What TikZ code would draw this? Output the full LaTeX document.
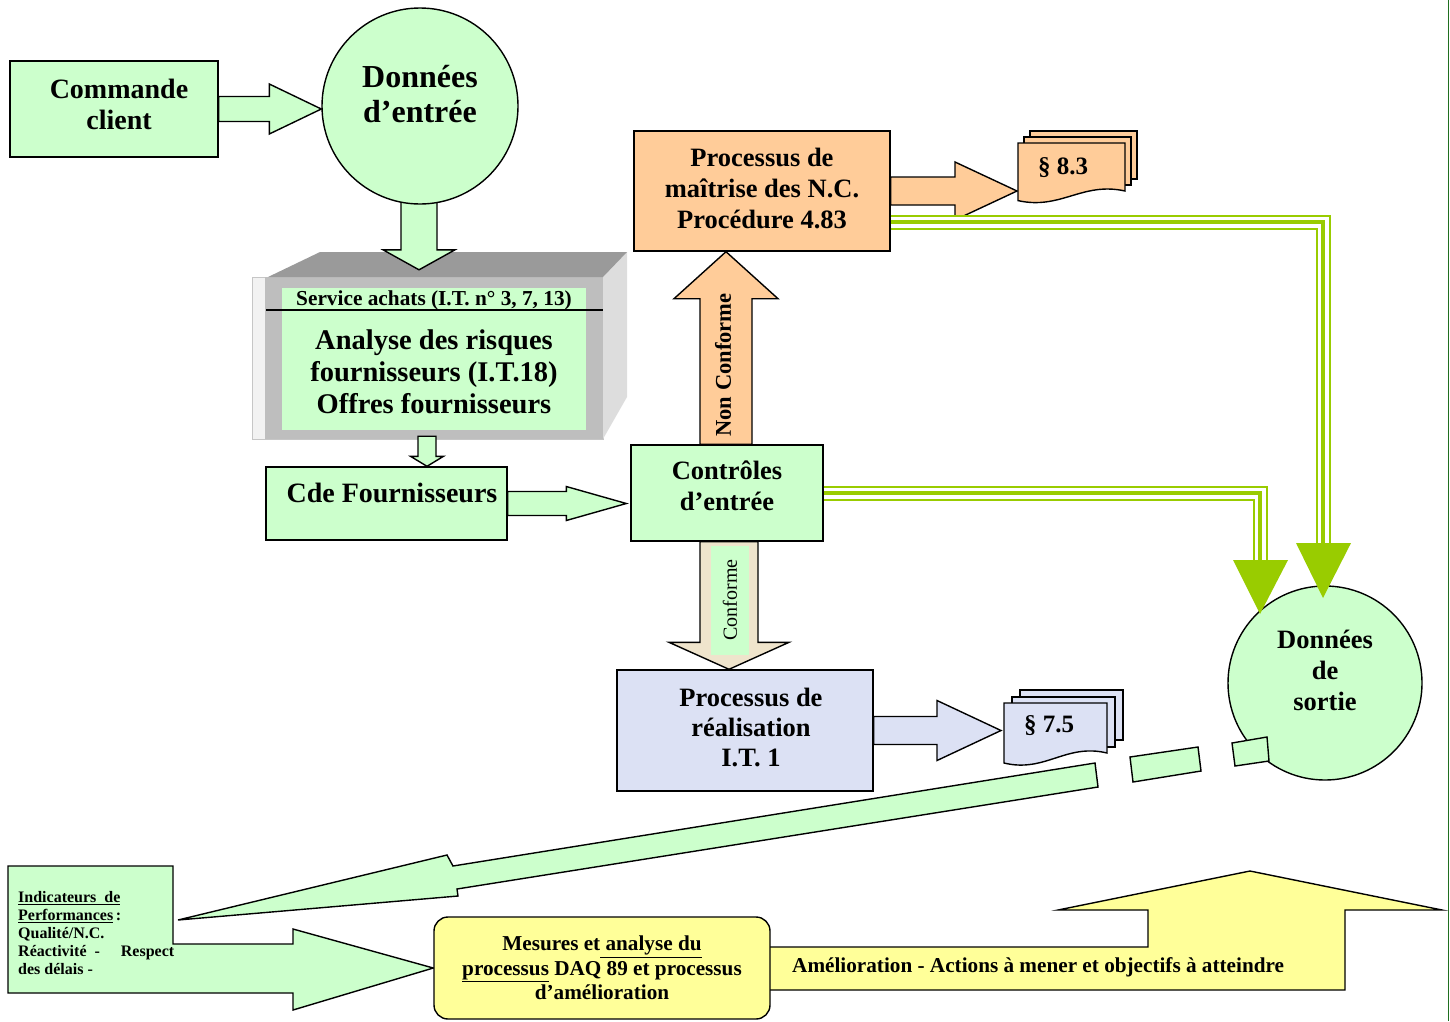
\documentclass[tikz,border=0pt]{standalone}
\usepackage{fontspec}
\setmainfont{Liberation Serif}
\usetikzlibrary{calc}

\definecolor{lgreen}{HTML}{CCFFCC}
\definecolor{lorange}{HTML}{FFCC99}
\definecolor{lyellow}{HTML}{FFFF99}
\definecolor{lime}{HTML}{99CC00}
\definecolor{lavender}{HTML}{DCE1F4}
\definecolor{beige}{HTML}{EFE4CC}
\definecolor{edgegreen}{HTML}{1F6F1F}
\definecolor{topgray}{HTML}{9A9A9A}
\definecolor{midgray}{HTML}{BEBEBE}
\definecolor{sidegray}{HTML}{DDDDDD}
\definecolor{rimgray}{HTML}{F2F2F2}

\newcommand\fs[2]{\fontsize{#1}{#2}\selectfont\bfseries}

% block arrows: #1 style, #2 start, #3 tip, #4 half shaft, #5 half head, #6 head length
\newcommand\blkR[6]{\draw[#1] let \p1=#2, \p2=#3 in
  (\x1,\y1+#4) -- (\x2-#6,\y1+#4) -- (\x2-#6,\y1+#5) -- (\x2,\y1)
  -- (\x2-#6,\y1-#5) -- (\x2-#6,\y1-#4) -- (\x1,\y1-#4) -- cycle;}
\newcommand\blkD[6]{\draw[#1] let \p1=#2, \p2=#3 in
  (\x1-#4,\y1) -- (\x1-#4,\y2+#6) -- (\x1-#5,\y2+#6) -- (\x1,\y2)
  -- (\x1+#5,\y2+#6) -- (\x1+#4,\y2+#6) -- (\x1+#4,\y1) -- cycle;}
\newcommand\blkU[6]{\draw[#1] let \p1=#2, \p2=#3 in
  (\x1-#4,\y1) -- (\x1-#4,\y2-#6) -- (\x1-#5,\y2-#6) -- (\x1,\y2)
  -- (\x1+#5,\y2-#6) -- (\x1+#4,\y2-#6) -- (\x1+#4,\y1) -- cycle;}

% lime triple line
\newcommand\tripleline[1]{%
  \draw[lime,line width=15pt] #1;
  \draw[white,line width=11pt] #1;
  \draw[lime,line width=3.5pt] #1;}

% document sheets: x, y, width, height, fill
\newcommand\docfront[5]{\draw[outl,fill=#5] (#1,#2) -- (#1+#3,#2) -- (#1+#3,#2+#4)
  .. controls (#1+0.6*#3,#2+#4-0.2*#4) and (#1+0.4*#3,#2+#4+0.4*#4) .. (#1,#2+#4+0.2*#4) -- cycle;}
\newcommand\docback[5]{\draw[outl,fill=#5] (#1,#2) rectangle (#1+#3,#2+#4);}

\pgfdeclarelayer{back}
\pgfsetlayers{back,main}

\begin{document}
\begin{tikzpicture}[x=1pt,y=-1pt,
  outl/.style={draw=black,line width=1.4pt,line join=miter},
  shapebox/.style={outl,rectangle,inner sep=0pt},
  txt/.style={inner sep=0pt,align=center},
  gfill/.style={outl,fill=lgreen},
  ofill/.style={outl,fill=lorange}]
\useasboundingbox (0,0) rectangle (1450,1021);

% ---------- 3D box : service achats ----------
\begin{pgfonlayer}{back}
  \fill[rimgray] (252,277) rectangle (603,439);
  \draw[gray!45,line width=1pt] (252,277) rectangle (603,439);
  \fill[midgray] (265,277) rectangle (603,439);
  \fill[sidegray] (603,277) -- (627,252) -- (627,397) -- (603,439) -- cycle;
  \fill[topgray] (268,277) -- (320,252) -- (627,252) -- (603,277) -- cycle;
  \node[fill=lgreen,minimum width=304pt,minimum height=142pt,inner sep=0pt] (ach) at (434,359) {};
  \draw[line width=1.5pt] (266,310) -- (603,310);
  \node[txt,font=\fs{21.3}{24}] at (434,300) {Service achats (I.T. n° 3, 7, 13)};
  \node[txt,font=\fs{28.5}{32}] at (434,372) {Analyse des risques\\fournisseurs (I.T.18)\\Offres fournisseurs};
\end{pgfonlayer}

% ---------- boxes and circles ----------
\node[shapebox,fill=lgreen,minimum width=208pt,minimum height=96pt] (cmd) at (114,109) {};
\node[txt,font=\fs{28}{31}] at (119,104) {Commande\\client};

\node[outl,circle,fill=lgreen,minimum size=196pt,inner sep=0pt] (din) at (420,106) {};
\node[txt,font=\fs{32}{35}] at (420,94) {Données\\d’entrée};

\node[shapebox,fill=lgreen,minimum width=241pt,minimum height=73pt] (cdf) at (386.5,503.5) {};
\node[txt,font=\fs{28}{31}] at (392,493) {Cde Fournisseurs};

\node[shapebox,fill=lgreen,minimum width=192pt,minimum height=96pt] (ctl) at (727,493) {};
\node[txt,font=\fs{26.5}{31}] at (727,486) {Contrôles\\d’entrée};

\node[shapebox,fill=lorange,minimum width=256pt,minimum height=120pt] (pmn) at (762,191) {};
\node[txt,font=\fs{26.5}{31}] at (762,188) {Processus de\\maîtrise des N.C.\\Procédure 4.83};

\node[shapebox,fill=lavender,minimum width=256pt,minimum height=121pt] (pre) at (745,730.5) {};
\node[txt,font=\fs{26.5}{30}] at (751,727) {Processus de\\réalisation\\I.T. 1};

\node[outl,circle,fill=lgreen,minimum size=194pt,inner sep=0pt] (dso) at (1325,683) {};
\node[txt,font=\fs{26.5}{31}] at (1325,670) {Données\\de\\sortie};

\node[outl,rectangle,rounded corners=14pt,fill=lyellow,minimum width=336pt,minimum height=102pt,inner sep=0pt] (mes) at (602,968) {};
\node[txt,font=\fs{21.2}{24.5}] at (602,968) {Mesures et\underline{ analyse du}\\\underline{processus} DAQ 89 et processus\\d’amélioration};

% document stacks
\docback{1030}{131}{107}{48}{lorange}
\docback{1024}{137}{107}{48}{lorange}
\docfront{1018}{143}{107}{48}{lorange}
\node[txt,font=\fs{25}{28}] (d83) at (1063,168) {§ 8.3};
\coordinate (d83w) at (1017,190);

\docback{1020}{690}{103}{50}{lavender}
\docback{1012}{697}{103}{50}{lavender}
\docfront{1004}{703}{103}{50}{lavender}
\node[txt,font=\fs{25}{28}] (d75) at (1049,726) {§ 7.5};
\coordinate (d75w) at (1001,730);

% ---------- connectors under the boxes ----------
\begin{pgfonlayer}{back}
  \blkR{gfill}{(cmd.east)}{(din.west)}{12.5pt}{25pt}{52pt}
  \blkD{gfill}{($(din.south)+(-1,-10)$)}{($(ach.north)+(-15,-18)$)}{18pt}{36pt}{20pt}
  \blkD{gfill}{($(ach.south)+(-7,6)$)}{(cdf.north)}{9pt}{16.5pt}{10pt}
  \blkR{gfill}{(cdf.east)}{($(ctl.west)+(-4,0)$)}{12pt}{17pt}{60pt}
  \blkU{ofill}{($(ctl.north)+(-1,0)$)}{(pmn.south)}{26pt}{52pt}{47pt}
  \blkD{outl,fill=beige}{($(ctl.south)+(2,0)$)}{(pre.north)}{29pt}{60pt}{27pt}
  \blkR{ofill}{(pmn.east)}{(d83w)}{14pt}{29pt}{62pt}
  \blkR{outl,fill=lavender}{(pre.east)}{(d75w)}{14pt}{30pt}{64pt}
  % performance indicators with their arrow
  \draw[outl,fill=lgreen] (8,866) -- (173,866) -- (173,944) -- (293,944) -- (293,929)
    -- (mes.west) -- (293,1010) -- (293,993) -- (8,993) -- cycle;
  % improvement arrow
  \draw[outl,fill=lyellow] ($(mes.east)+(-5,-21)$) -- (1148,947) -- (1148,910) -- (1058,910)
    -- (1250,871) -- (1442,910) -- (1345,910) -- (1345,990) -- ($(mes.east)+(-5,22)$) -- cycle;
\end{pgfonlayer}

\node[fill=lgreen,rotate=90,minimum width=109pt,minimum height=38pt,inner sep=0pt,
  font=\fontsize{20}{24}\selectfont] (cnf) at (730,600) {Conforme};
\node[txt,rotate=90,font=\fs{22.5}{26}] at (723,365) {Non Conforme};

% ---------- lime output lines ----------
\coordinate (t1) at (1323,598);
\coordinate (t2) at (1260,614);
\tripleline{($(pmn.east)+(0,31)$) -| ($(t1)+(0,-52)$)}
\tripleline{(ctl.east) -| ($(t2)+(0,-52)$)}
\fill[lime] ($(t1)+(-27,-55)$) -- ($(t1)+(28,-55)$) -- (t1) -- cycle;
\fill[lime] ($(t2)+(-27,-54)$) -- ($(t2)+(28,-54)$) -- (t2) -- cycle;

% ---------- feedback arrow towards the indicators ----------
\coordinate (fbtip) at (178,920);
\draw[outl,fill=lgreen] (fbtip) -- (447,855) -- (453,866) -- (1095,763) -- (1098,787)
  -- (457,889) -- (458,896) -- cycle;
\draw[outl,fill=lgreen] (1130,757) -- (1198,747) -- (1201,771) -- (1133,782) -- cycle;
\draw[outl,fill=lgreen] (1232,743) -- (1267,737) -- (1269,761) -- (1235,766) -- cycle;

\node[anchor=north west,inner sep=0pt,font=\fs{16}{18}] (indt) at (18,891)
  {\parbox{156pt}{\underline{Indicateurs\ \ de}\\\underline{Performances}\,:\\Qualité/N.C.\\Réactivité\ \ -\hfill Respect\\des délais -}};
\node[anchor=west,inner sep=0pt,font=\fs{21.2}{24}] (amel) at (792,967)
  {Amélioration - Actions à mener et objectifs à atteindre};

% right frame edge
\draw[edgegreen,line width=1.5pt] (1448.5,0) -- (1448.5,1021);
\end{tikzpicture}
\end{document}
